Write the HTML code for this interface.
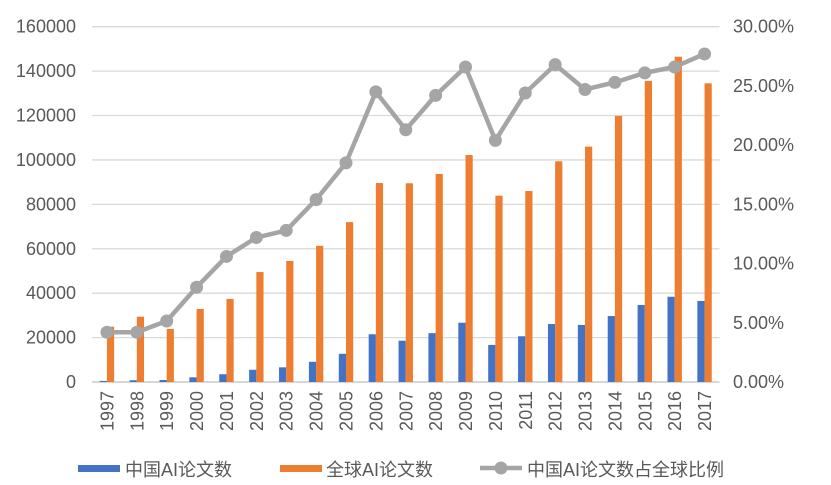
<!DOCTYPE html>
<html><head><meta charset="utf-8"><style>
html,body{margin:0;padding:0;background:#fff;}
svg{display:block;font-family:"Liberation Sans","Noto Sans CJK SC",sans-serif;}
</style></head><body>
<svg id="chart" width="831" height="485" viewBox="0 0 831 485" xmlns="http://www.w3.org/2000/svg"></svg>
<script>
const years = ["1997","1998","1999","2000","2001","2002","2003","2004","2005","2006","2007","2008","2009","2010","2011","2012","2013","2014","2015","2016","2017"];
const chinaPapers = [500,800,900,2100,3500,5500,6600,9100,12700,21500,18600,22000,26700,16700,20600,26100,25700,29700,34700,38400,36500];
const globalPapers = [24900,29400,23900,32900,37400,49500,54500,61300,72000,89600,89500,93700,102200,83900,86000,99400,106000,119800,135600,146500,134500];
const chinaShare = [4.2,4.2,5.15,8.0,10.6,12.2,12.8,15.4,18.5,24.5,21.3,24.2,26.6,20.4,24.4,26.8,24.7,25.3,26.1,26.6,27.7];
const leftTicks = [0,20000,40000,60000,80000,100000,120000,140000,160000];
const rightTicks = ["0.00%","5.00%","10.00%","15.00%","20.00%","25.00%","30.00%"];
const rightTickVals = [0,5,10,15,20,25,30];

const NS="http://www.w3.org/2000/svg";
const svg=document.getElementById('chart');
const X0=92, X1=719.5, Y0=382, Y1=26.7;
const step=(X1-X0)/years.length;
const xc=i=>X0+step*(i+0.5);
const yL=v=>Y0-(v/160000)*(Y0-Y1);
const yR=v=>Y0-(v/30)*(Y0-Y1);
function mk(t,a,txt){const e=document.createElementNS(NS,t);for(const k in a)e.setAttribute(k,a[k]);if(txt!==undefined)e.textContent=txt;svg.appendChild(e);return e;}

leftTicks.forEach((v,i)=>{
  const g=mk('line',{x1:X0,x2:X1,y1:yL(v),y2:yL(v),stroke:i===0?'#bfbfbf':'#d9d9d9','stroke-width':1.3});
  
  
  const t=mk('text',{x:76,y:yL(v)+6,'text-anchor':'end','font-size':18,fill:'#595959'},String(v));
  
  
});
rightTickVals.forEach((v,i)=>{
  const t=mk('text',{x:733,y:yR(v)+6,'font-size':18,fill:'#595959'},rightTicks[i]);
  
  
});
const bw=7.2;
years.forEach((y,i)=>{
  const c=xc(i);
  const b=mk('rect',{x:c-bw,y:yL(chinaPapers[i]),width:bw,height:Y0-yL(chinaPapers[i]),fill:'#4472c4'});
  
  
  const o=mk('rect',{x:c,y:yL(globalPapers[i]),width:bw,height:Y0-yL(globalPapers[i]),fill:'#ed7d31'});
  
  
  const t=mk('text',{x:0,y:0,'text-anchor':'end','font-size':18,fill:'#595959',transform:`translate(${c+6.5},391) rotate(-90)`},y);
  
  
});
const pts=chinaShare.map((v,i)=>xc(i)+','+yR(v)).join(' ');
const pl=mk('polyline',{points:pts,fill:'none',stroke:'#a5a5a5','stroke-width':4.5,'stroke-linejoin':'round'});


chinaShare.forEach((v,i)=>{
  const p=mk('circle',{cx:xc(i),cy:yR(v),r:6.5,fill:'#a5a5a5'});
  
  
});
</script>
<svg width="831" height="485" style="position:absolute;left:0;top:0;font-family:'Liberation Sans','Noto Sans CJK SC',sans-serif" xmlns="http://www.w3.org/2000/svg">
<g><rect x="78" y="465" width="42" height="7" fill="#4472c4"/><text x="125" y="476" font-size="18" fill="#595959">中国AI论文数</text></g>
<g><rect x="280" y="465" width="42" height="7" fill="#ed7d31"/><text x="326" y="476" font-size="18" fill="#595959">全球AI论文数</text></g>
<g><line x1="480" y1="468" x2="522" y2="468" stroke="#a5a5a5" stroke-width="4.5"/><circle cx="501" cy="468" r="6.5" fill="#a5a5a5"/><text x="527" y="476" font-size="18" fill="#595959">中国AI论文数占全球比例</text></g>
</svg>
</body></html>
